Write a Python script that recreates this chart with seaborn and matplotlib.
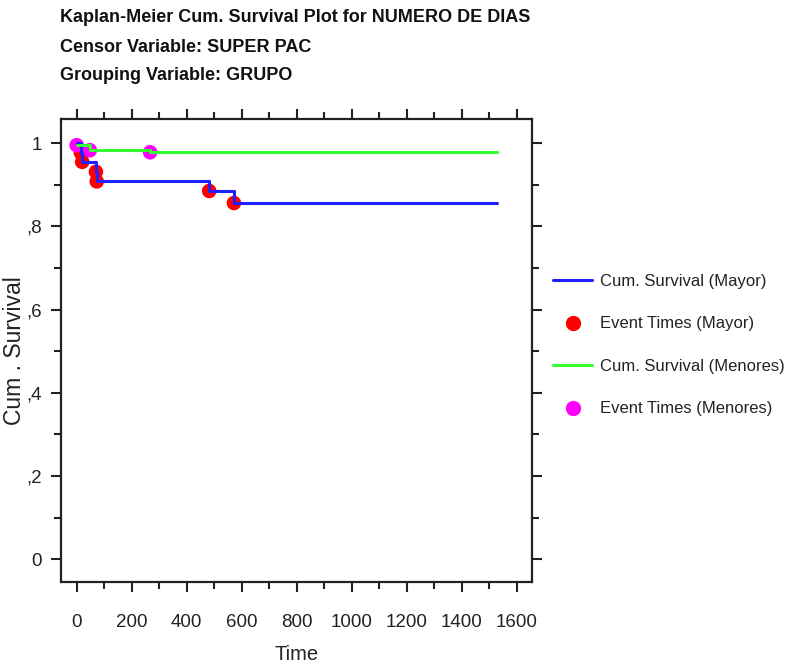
import numpy as np
import pandas as pd
import matplotlib
matplotlib.use("Agg")
import matplotlib.pyplot as plt
import seaborn as sns
from matplotlib.ticker import MultipleLocator, FuncFormatter
from matplotlib.lines import Line2D

# ---- data ----
mayor_time = [0, 15, 20, 70, 73, 482, 572, 1529]
mayor_surv = [1.0, 0.977, 0.955, 0.931, 0.908, 0.885, 0.856, 0.856]
mayor_event_time = [15, 20, 70, 73, 482, 572]
mayor_event_surv = [0.977, 0.955, 0.931, 0.908, 0.885, 0.856]

menores_time = [0, 48, 267, 1529]
menores_surv = [0.995, 0.983, 0.978, 0.978]
menores_event_time = [0, 48, 267]
menores_event_surv = [0.995, 0.983, 0.978]

title_lines = ["Kaplan-Meier Cum. Survival Plot for NUMERO DE DIAS",
               "Censor Variable: SUPER PAC",
               "Grouping Variable: GRUPO"]
legend_labels = ["Cum. Survival (Mayor)", "Event Times (Mayor)",
                 "Cum. Survival (Menores)", "Event Times (Menores)"]

sns.set_theme(style="ticks")
plt.rcParams["font.family"] = ["Liberation Sans", "DejaVu Sans"]

blue = "#1f1fff"
red = "#ff0000"
green = "#33ff33"
magenta = "#ff00ff"
ink = "#222222"

fig = plt.figure(figsize=(7.99, 6.66), dpi=100)
ax = fig.add_axes([61 / 799, 1 - 582 / 666, (532 - 61) / 799, (582 - 119) / 666])

curves = pd.DataFrame({
    "time": mayor_time + menores_time,
    "surv": mayor_surv + menores_surv,
    "grupo": ["Mayor"] * len(mayor_time) + ["Menores"] * len(menores_time),
})
events = pd.DataFrame({
    "time": mayor_event_time + menores_event_time,
    "surv": mayor_event_surv + menores_event_surv,
    "grupo": ["Mayor"] * len(mayor_event_time) + ["Menores"] * len(menores_event_time),
})

sns.scatterplot(data=events, x="time", y="surv", hue="grupo",
                palette={"Mayor": red, "Menores": magenta}, s=110,
                marker="o", edgecolor="none", legend=False, ax=ax, zorder=2)
sns.lineplot(data=curves, x="time", y="surv", hue="grupo",
             palette={"Mayor": blue, "Menores": green}, estimator=None,
             drawstyle="steps-post", linewidth=2.2, legend=False, ax=ax, zorder=3)

ax.set_xlim(-57, 1656)
ax.set_ylim(-0.055, 1.058)

ax.xaxis.set_major_locator(MultipleLocator(200))
ax.xaxis.set_minor_locator(MultipleLocator(100))
ax.yaxis.set_major_locator(MultipleLocator(0.2))
ax.yaxis.set_minor_locator(MultipleLocator(0.1))

def yfmt(v, pos):
    if abs(v) < 1e-9:
        return "0"
    if abs(v - 1) < 1e-9:
        return "1"
    return ("%.1f" % v).lstrip("0").replace(".", ",")

ax.yaxis.set_major_formatter(FuncFormatter(yfmt))
ax.tick_params(which="both", direction="out", top=True, right=True,
               labeltop=False, labelright=False, color=ink, width=1.5)
ax.tick_params(which="major", length=7, labelsize=13.5, labelcolor=ink)
ax.tick_params(which="minor", length=5)
ax.tick_params(axis="x", which="major", pad=16)
ax.tick_params(axis="y", which="major", pad=7)

for sp in ax.spines.values():
    sp.set_visible(True)
    sp.set_linewidth(1.6)
    sp.set_color(ink)

ax.set_xlabel("Time", fontsize=14.5, color=ink, labelpad=10)
ax.set_ylabel("Cum . Survival", fontsize=16.5, color=ink)
ax.yaxis.set_label_coords((26 - 61) / 471, 0.5)

for i, t in enumerate(title_lines):
    fig.text(60 / 799, 1 - (18 + 29 * i) / 666, t, fontsize=13, fontweight="bold",
             va="center", ha="left", color="#111111")

handles = [
    Line2D([], [], color=blue, lw=2.2),
    Line2D([], [], color=red, marker="o", ls="none", markersize=11, markeredgecolor="none"),
    Line2D([], [], color=green, lw=2.2),
    Line2D([], [], color=magenta, marker="o", ls="none", markersize=11, markeredgecolor="none"),
]
fig.legend(handles, legend_labels, loc="upper left",
           bbox_to_anchor=(553 / 799, 1 - 274 / 666), frameon=False,
           fontsize=12, handlelength=2.35, handletextpad=0.45, labelspacing=1.65,
           borderpad=0, borderaxespad=0, labelcolor=ink)

fig.savefig("out.png", dpi=100)
